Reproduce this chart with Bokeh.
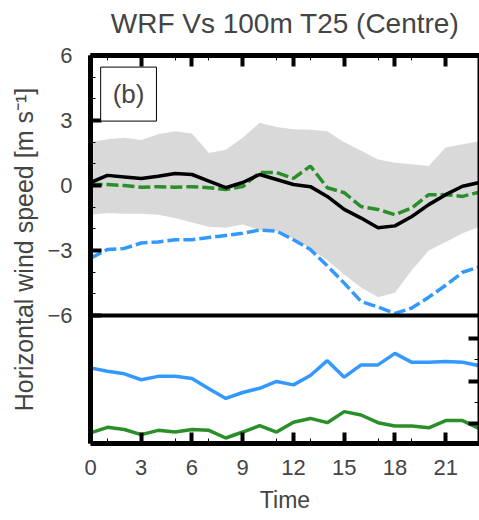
from bokeh.plotting import figure
from bokeh.models import (Range1d, LinearAxis, FixedTicker, Span, Label)
from bokeh.embed import file_html
from bokeh.resources import INLINE

# ---- data ----
hours = list(range(24))
# top panel: horizontal wind speed [m s-1]
obs_black = [0.14, 0.47, 0.40, 0.33, 0.43, 0.56, 0.51, 0.20, -0.10, 0.14, 0.51, 0.28,
             0.05, -0.05, -0.50, -1.10, -1.50, -1.95, -1.86, -1.43, -0.88, -0.42, -0.03, 0.14]
green_dash = [0.05, 0.05, 0.00, -0.08, -0.05, -0.08, -0.05, -0.10, -0.18, -0.05, 0.60, 0.60,
              0.33, 0.90, -0.10, -0.33, -0.97, -1.10, -1.35, -1.03, -0.42, -0.42, -0.50, -0.30]
blue_dash = [-3.35, -2.95, -2.90, -2.65, -2.60, -2.50, -2.50, -2.40, -2.30, -2.20, -2.05, -2.10,
             -2.50, -2.95, -3.70, -4.50, -5.35, -5.60, -5.90, -5.65, -5.15, -4.60, -4.00, -3.75]
band_upper = [2.00, 2.14, 2.20, 2.10, 2.37, 2.50, 2.40, 1.50, 1.65, 2.20, 2.90, 2.70,
              2.60, 2.57, 2.50, 2.00, 1.60, 1.20, 1.05, 0.98, 0.90, 1.75, 1.90, 2.05]
band_lower = [-1.35, -1.27, -1.30, -1.30, -1.35, -1.50, -1.70, -1.90, -1.95, -1.80, -2.05, -2.10,
              -2.45, -2.90, -3.45, -4.10, -4.70, -5.15, -4.95, -3.90, -3.00, -2.60, -2.20, -1.90]
# bottom panel (right axis, unlabeled)
blue_low = [2.31, 2.23, 2.17, 2.03, 2.11, 2.11, 2.06, 1.82, 1.59, 1.73, 1.83, 1.99,
            1.91, 2.13, 2.48, 2.09, 2.38, 2.38, 2.65, 2.44, 2.44, 2.46, 2.44, 2.36]
green_low = [0.78, 0.91, 0.86, 0.74, 0.84, 0.80, 0.86, 0.84, 0.66, 0.80, 0.95, 0.80,
             1.03, 1.12, 1.02, 1.28, 1.20, 1.02, 0.94, 0.94, 0.90, 1.07, 1.07, 0.88]

x_major = [0, 3, 6, 9, 12, 15, 18, 21]
x_minor = [1, 5, 7, 11, 13, 17, 19, 23]
y_major = [-6, -3, 0, 3, 6]
y_minor = [-5, -4, -2, -1, 1, 2, 4, 5]
r_major = [1, 2, 3]
r_minor = [1.5, 2.5]

TITLE = "WRF Vs 100m T25 (Centre)"
FONT = "Liberation Sans"
BLUE = "#3399FF"
GREEN = "#2A8F2A"

p = figure(width=479, height=520, output_backend="svg", toolbar_location=None,
           x_range=Range1d(0, 23), y_range=Range1d(-11.9, 6),
           x_axis_location=None, y_axis_location=None,
           min_border_left=90, min_border_right=0, min_border_top=55, min_border_bottom=77)
p.extra_y_ranges = {"b": Range1d(0.53, 9.66)}
p.grid.visible = False
p.outline_line_color = None


def style_axis(ax, labels=True):
    ax.axis_line_width = 5
    ax.axis_line_color = "black"
    ax.major_tick_in = 11
    ax.major_tick_out = 0
    ax.major_tick_line_width = 4
    ax.minor_tick_in = 5
    ax.minor_tick_out = 0
    ax.minor_tick_line_width = 1
    ax.major_label_text_font = FONT
    ax.axis_label_text_font = FONT
    ax.axis_label_text_font_style = "normal"
    if labels:
        ax.major_label_text_font_size = "22px"
        ax.major_label_standoff = 16
    else:
        ax.major_label_text_font_size = "1px"
        ax.major_label_text_color = None
        ax.major_label_standoff = 0


left = LinearAxis(ticker=FixedTicker(ticks=y_major, minor_ticks=y_minor))
style_axis(left)
left.major_label_standoff = 18
left.axis_label = "Horizontal wind speed [m s\u207b\u00b9]"
left.axis_label_text_font_size = "25px"
left.axis_label_standoff = 6
p.add_layout(left, "left")

bottom = LinearAxis(ticker=FixedTicker(ticks=x_major, minor_ticks=x_minor))
style_axis(bottom)
bottom.axis_label = "Time"
bottom.axis_label_text_font_size = "23px"
bottom.axis_label_standoff = 9
p.add_layout(bottom, "below")

# top frame axis carries the chart title as its label
top = LinearAxis(ticker=FixedTicker(ticks=x_major, minor_ticks=x_minor))
style_axis(top, labels=False)
top.axis_label = TITLE
top.axis_label_text_font_size = "28px"
top.axis_label_standoff = 17
p.add_layout(top, "above")

right = LinearAxis(y_range_name="b", ticker=FixedTicker(ticks=r_major, minor_ticks=r_minor))
style_axis(right, labels=False)
right.axis_line_width = 4
p.add_layout(right, "right")

# top panel
p.varea(x=hours, y1=band_lower, y2=band_upper, fill_color="#D9D9D9")
p.line(hours, blue_dash, line_color=BLUE, line_width=3.5, line_dash="12 4")
p.line(hours, green_dash, line_color=GREEN, line_width=3.5, line_dash="12 4")
p.line(hours, obs_black, line_color="black", line_width=3.5)

# bottom panel
p.line(hours, blue_low, line_color=BLUE, line_width=3.5, y_range_name="b")
p.line(hours, green_low, line_color=GREEN, line_width=3.5, y_range_name="b")

# panel separator
p.add_layout(Span(location=-6, dimension="width", line_color="black", line_width=4))

# panel tag
p.add_layout(Label(x=2.25, y=4.22, text="(b)", text_font=FONT, text_font_size="26px",
                   text_align="center", text_baseline="middle",
                   border_line_color="black", border_line_width=1,
                   background_fill_color="white", padding=12))

open("out.html", "w").write(file_html(p, INLINE))
